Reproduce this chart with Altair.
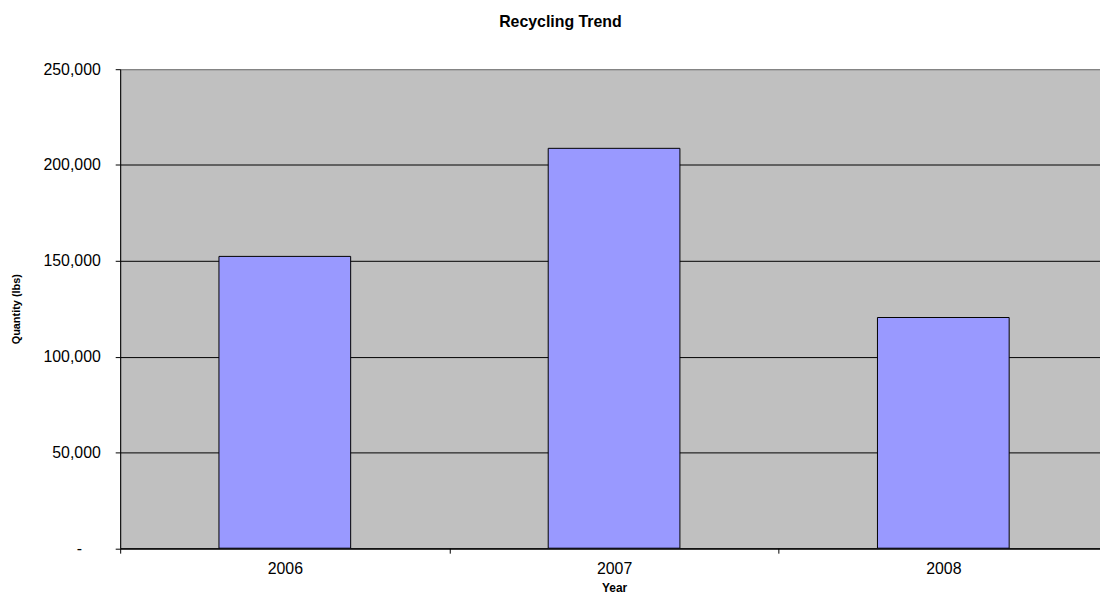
import altair as alt
import pandas as pd

years = ["2006", "2007", "2008"]
quantities = [152300, 208700, 120400]

df = pd.DataFrame({"Year": years, "Quantity": quantities})

FONT = "Liberation Sans"
W = 995
H = 482.5

chart = alt.Chart(df).mark_bar(
    color="#9999FF", stroke="#000000", strokeWidth=1
).encode(
    x=alt.X(
        "Year:N",
        sort=years,
        scale=alt.Scale(paddingInner=0.6, paddingOuter=0.3),
        axis=alt.Axis(
            title="Year", labelAngle=0, tickSize=5, tickOffset=-W / 6,
            labelOffset=W / 6,
            tickColor="#000000", domainColor="#000000", labelPadding=7,
            labelFont=FONT, labelFontSize=16, labelColor="#000000",
            titleFont=FONT, titleFontSize=12, titleFontWeight="bold",
            titleColor="#000000", titlePadding=7, grid=False,
        ),
    ),
    y=alt.Y(
        "Quantity:Q",
        scale=alt.Scale(domain=[0, 250000]),
        axis=alt.Axis(
            title="Quantity (lbs)", values=[0, 50000, 100000, 150000, 200000, 250000],
            labelExpr="datum.value == 0 ? '-' : format(datum.value, ',')",
            tickSize=5, tickColor="#000000", domainColor="#000000",
            labelPadding={"condition": {"test": "datum.value == 0", "value": 34}, "value": 15},
            labelFont=FONT, labelFontSize=16, labelColor="#000000",
            titleFont=FONT, titleFontSize=11, titleFontWeight="bold",
            titleColor="#000000", titlePadding=22,
            grid=True,
            gridColor={"condition": {"test": "datum.value == 250000", "value": "#808080"}, "value": "#000000"},
            gridWidth=1,
        ),
    ),
).properties(
    width=W,
    height=H,
    title=alt.TitleParams(
        "Recycling Trend", font=FONT, fontSize=16, fontWeight="bold",
        color="#000000", offset=32, dx=-54, anchor="middle",
    ),
    autosize=alt.AutoSizeParams(type="none"),
    padding={"left": 113, "top": 59.5, "right": -8, "bottom": 46},
).configure(
    background="#FFFFFF"
).configure_view(
    fill="#C0C0C0", stroke="#808080", strokeWidth=1
)

chart.save("out.html", embed_options={"renderer": "svg", "actions": False})
